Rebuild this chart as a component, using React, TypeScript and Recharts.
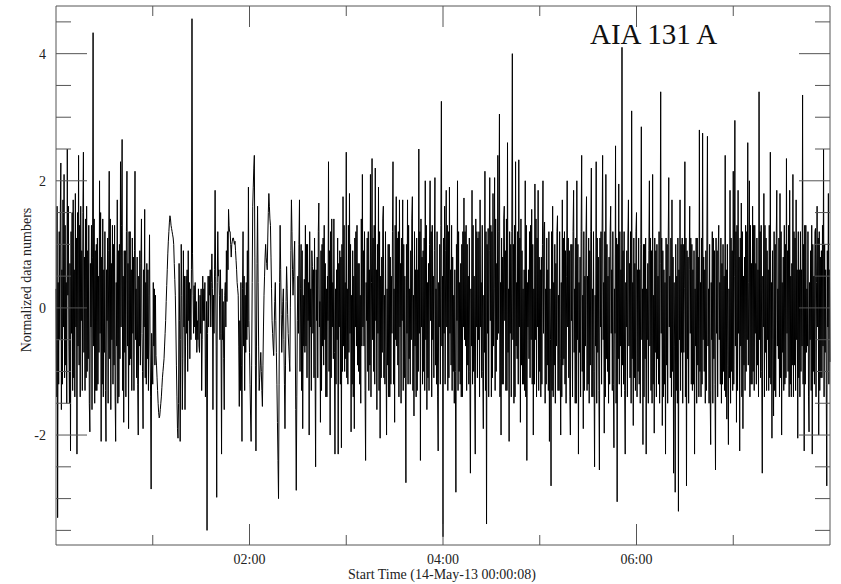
import { LineChart, Line, XAxis, YAxis } from "recharts";

// normalized AIA 131 light curve: three samples per minute (every 20 s), one array per hour
const hour0 = [
  0.3, -1.4, 1.6, -3.3, 0.4, -1.2, 1.2, -0.5, 1.5, 2.28, -1.6, 0.6, -1.2, 1.7, -0.3,
  2.1, -1.1, 1.3, -0.9, 0.4, -1.5, 2.5, 0.2, 1.6, -0.6, -1.5, 0.7, -2.25, 1.2, -0.4,
  1.5, -1.3, 1.7, -1.1, 0.6, -1.4, 1.8, -0.3, 1.1, -2.3, 1.5, -0.6, 2.4, -0.9, 1.3,
  -1.4, 1.6, -0.2, 0.9, -1.3, 1.5, 2.45, -0.7, 0.8, -1.3, 1.4, -1.1, 1.6, -1.0, 0.9,
  -0.8, 1.3, -1.5, -1.95, 0.7, -0.3, 1.3, -1.6, 0.8, 4.33, -0.6, 1.4, -1.5, 0.9, -1.3,
  1.0, -1.3, 1.1, -1.2, 0.5, -0.7, 2.0, -0.4, 1.5, -2.1, 0.8, -1.2, 1.4, -1.4, 0.6,
  -0.7, 1.2, -1.3, -2.1, 0.6, -0.2, 1.1, -1.5, 0.9, 2.15, -0.8, 1.4, -1.6, 0.7, -0.5,
  1.3, -1.2, 1.0, -0.9, 1.3, -1.4, -2.1, 0.4, -0.6, 1.7, -1.5, 0.9, -1.4, 1.0, -0.8,
  2.3, -0.3, 1.3, 2.65, -1.3, 0.5, -1.8, 0.9, -0.7, 0.9, -1.4, 1.2, 2.15, -0.6, 0.7,
  -1.9, 1.2, -0.9, 1.2, -0.8, 0.6, -1.3, 1.1, -0.4, 0.8, -1.3, 0.9, 2.15, -0.5, 0.3,
  -1.1, 0.8, -1.2, -2.0, 0.5, -0.6, 0.9, -0.9, 0.7, 1.4, -0.4, -1.0, -1.9, 0.6, -0.3,
  1.55, -1.1, 0.4, -1.2, 0.7, -0.8, 0.6, -1.3, 0.2, 1.15, -0.6, -1.4, -2.85, -0.4, -0.9,
];
const hour1 = [
  -1.2, 0.4, -0.6, 0.3, -0.9, 0.2, -0.75, -0.9, -1.1, -1.3, -1.5, -1.65, -1.73, -1.7, -1.6,
  -1.5, -1.4, -1.25, -1.1, -1.0, -0.9, -0.8, -0.6, -0.4, -0.2, 0.1, 0.35, 0.6, 0.85, 1.05,
  1.2, 1.35, 1.45, 1.4, 1.3, 1.25, 1.2, 1.15, 1.1, 1.0, 0.7, 0.45, 0.2, -0.3, -0.9,
  -1.4, -1.9, -2.05, -1.5, 0.7, -0.2, -2.1, -0.5, 1.0, 0.2, -1.6, -0.8, 0.9, -0.3, 0.5,
  -1.6, -0.6, 0.5, -0.4, 0.6, -1.0, 0.9, -0.2, 0.4, -0.8, 0.3, -0.5, 0.6, 4.55, 0.85,
  0.2, -0.4, 0.35, -0.3, 0.4, -0.5, 0.1, -0.7, -0.2, -0.5, 0.3, -0.6, -0.7, 0.2, -0.4,
  0.3, -1.3, -0.5, 0.5, -0.2, 0.3, -0.2, 0.4, -1.4, -0.8, 0.1, -3.5, -0.4, 0.5, -0.3,
  0.5, 0.2, 0.6, -0.3, 0.4, 0.85, 0.3, -1.6, 0.2, -0.4, 0.6, 1.85, 0.5, -0.6, -2.98,
  0.4, 1.2, 0.5, 0.6, 0.2, -0.5, 0.6, -0.4, -2.3, 0.3, -0.5, 0.1, -0.8, -1.6, 0.2,
  0.4, -0.3, 0.9, 0.1, 1.2, 0.6, 1.55, 1.3, 1.2, 1.2, 1.0, 0.8, 1.0, 1.05, 1.1,
  1.1, 1.05, 1.0, 1.05, 0.9, 0.75, 0.6, 0.4, 0.3, 0.2, -0.6, -1.55, -0.2, -1.3, 0.4,
  -0.9, -2.1, 0.3, 1.2, -0.6, 0.5, -1.3, 0.2, -0.7, 0.4, -0.5, 0.9, -0.3, 1.9, -0.2,
];
const hour2 = [
  -0.7, -1.2, -1.7, -2.1, -0.9, 0.4, 1.6, 1.9, 2.2, 2.4, 0.8, -0.9, -2.25, -0.6, 0.7,
  1.6, 0.4, -0.6, -1.3, -1.1, -0.9, -0.7, -1.0, -1.3, -1.55, -0.9, -0.3, 0.2, 0.5, 0.8,
  1.0, 0.8, 0.7, 0.6, 1.1, 1.5, 1.8, 1.6, 1.4, 1.3, 0.8, 0.3, -0.2, -0.4, -0.6,
  -0.75, -0.3, 0.1, 0.4, -0.2, -0.7, -1.2, -1.8, -2.4, -3.0, -1.2, 0.4, 1.3, 0.6, -0.1,
  -0.7, -0.3, 0.1, 0.3, -0.5, -1.2, -1.9, -0.9, 0.1, 0.65, 0.3, -0.1, -0.4, -0.6, -0.8,
  -1.0, 0.0, 0.9, 1.7, 1.2, 0.6, 0.2, 0.5, 0.8, 1.05, -0.3, -1.6, -2.87, -1.4, -0.2,
  0.5, -0.4, 1.0, 1.7, -1.0, 0.3, 1.0, -1.3, 0.9, -1.9, 0.2, -0.6, 0.45, -0.7, 1.3,
  -0.6, 1.0, -1.1, 1.0, -0.2, 0.4, -2.0, 1.2, -0.3, 0.3, -1.3, 0.9, 0.65, -0.4, 0.6,
  -1.1, 1.1, -0.9, -2.5, 0.6, -0.2, 0.8, -1.1, 1.2, 1.65, -0.3, 0.1, -1.8, 0.9, -1.3,
  1.0, -0.6, 1.1, -0.9, 1.3, -0.5, 0.7, -1.4, 0.3, -1.4, 0.5, -0.2, 2.3, -1.0, 0.9,
  -2.0, 1.2, -1.1, 1.4, -0.3, 0.4, -0.8, 1.4, -0.7, -2.3, 0.3, -1.2, 0.6, -0.5, 1.1,
  -2.3, 0.7, -0.3, 0.9, -1.2, 0.8, -2.2, 1.0, -1.0, 1.75, -0.6, 1.3, -1.0, 0.4, -0.8,
];
const hour3 = [
  2.45, -1.1, 0.3, -1.2, 1.3, -0.7, 1.8, -0.4, 1.0, -1.95, 0.2, -1.2, 0.9, -1.4, 0.5,
  -1.9, 1.1, -0.3, 1.2, -0.6, 1.3, -0.9, 0.7, -1.0, 0.7, -1.2, 0.2, -1.5, 1.4, -0.6,
  2.1, -0.3, 0.9, -0.6, 1.2, -1.3, -2.4, 0.4, -0.2, 1.1, -1.0, 1.2, -1.3, 0.6, -0.9,
  2.1, -1.4, 0.4, 2.35, -0.5, 1.1, -1.0, 1.3, -1.2, 2.2, -0.2, 0.6, -1.6, 1.0, -0.4,
  1.9, -1.3, 1.2, -2.05, 0.5, -1.1, 0.8, -0.7, 1.4, 1.6, -1.1, 0.2, -1.2, 1.2, -0.6,
  -2.0, 0.3, -0.9, 1.0, -1.4, 1.0, -1.4, 0.8, -1.2, 0.5, -0.4, 1.2, 2.3, -1.2, 0.3,
  -1.8, 1.3, -0.5, 1.75, -0.6, 1.1, -0.9, 1.2, -1.4, 1.7, -0.3, 0.7, -1.5, 1.1, -0.2,
  1.7, -1.3, 1.0, -1.1, 0.5, -1.1, -2.75, 1.0, -0.4, 1.7, -1.2, 1.3, -0.8, 0.3, -1.2,
  0.9, -0.5, 1.4, 1.75, -1.3, 0.2, -1.7, 1.2, -0.6, 0.6, -1.4, 1.1, -1.3, 0.6, -1.0,
  2.5, -0.4, 1.2, -2.4, 1.4, -0.3, 0.8, -1.2, 0.9, -1.0, 1.1, -1.3, 2.0, -0.5, 1.3,
  -1.6, 0.4, -1.1, 0.7, -1.3, 1.0, 2.0, -0.2, 1.2, -1.4, 1.3, -0.5, 0.5, -1.1, 0.9,
  2.05, -0.9, 0.3, -1.2, 1.2, -1.4, -2.25, 0.4, -0.3, 1.0, -1.2, 1.3, 3.25, -0.6, 0.5,
];
const hour4 = [
  -3.6, 1.1, -0.4, 1.6, -1.2, 0.9, 1.85, -0.3, 1.3, -1.3, 1.2, -1.1, 1.9, -0.4, 0.6,
  -0.9, 1.3, -1.3, 0.8, -1.0, 0.2, -1.5, 0.6, -1.0, -2.9, 1.0, -0.2, 2.0, -1.3, 1.2,
  -1.0, 0.4, -1.2, 0.7, -1.4, 1.0, -1.4, 1.2, -0.3, 1.73, -0.5, 1.2, -0.6, 1.3, -1.3,
  1.0, -0.9, 0.5, -1.2, 1.1, -1.0, -2.6, 0.3, -0.6, 1.85, -1.2, 1.3, -1.0, 0.5, -1.2,
  -2.3, 1.4, -0.3, 1.2, -1.1, 1.1, -0.5, 1.2, -1.4, 1.7, -0.3, 0.4, -1.1, 1.3, -1.0,
  -1.9, 0.2, -0.7, 2.15, -1.3, 1.2, -3.4, 1.0, -0.4, 1.25, -1.4, 0.9, 2.05, -0.2, 1.3,
  -1.4, 1.2, -1.1, 1.8, -0.6, 0.3, 2.05, -1.3, 1.4, -1.0, 0.7, -0.5, 2.4, -0.4, 1.2,
  3.05, -1.4, 0.4, -2.0, 1.1, -1.2, 0.8, -1.2, 1.4, 1.6, -0.2, 0.9, -1.3, 1.4, -1.3,
  2.6, -0.7, 0.3, -2.1, 1.2, -0.4, 1.0, -1.4, 1.2, 4.0, -0.5, 1.0, -1.5, 1.3, -1.4,
  2.3, -0.6, 0.4, -0.8, 1.2, -1.2, 2.33, -0.3, 1.1, -1.8, 1.4, -0.9, 0.9, -1.2, 0.3,
  -1.2, 0.6, -1.3, 2.0, -1.4, 1.3, -2.4, 0.4, -0.3, 0.6, -0.8, 1.2, -1.1, 1.3, -0.5,
  1.55, -1.2, 1.0, -2.0, 0.3, -1.2, 1.95, -0.5, 1.4, -1.4, 1.1, -0.3, 1.85, -1.3, 0.8,
];
const hour5 = [
  -1.0, 0.6, -1.4, 0.8, -1.2, 1.0, 2.0, -0.4, 1.2, 1.35, -1.5, 0.3, -1.2, 1.1, -0.9,
  0.6, -1.3, 1.2, -2.1, 0.3, -0.5, -2.8, 1.2, -1.3, 1.6, -1.4, 0.4, -0.9, 1.0, -1.5,
  0.7, -0.6, 1.2, 1.45, -1.3, 0.2, -1.3, 1.2, -0.8, -2.0, 0.4, -1.4, 1.7, -0.9, 1.1,
  -0.8, 1.2, -1.2, 0.9, -1.5, 0.5, 2.0, -0.3, 1.1, -1.1, 0.9, -1.4, -2.0, 1.0, -0.2,
  1.0, -1.4, 1.2, 1.85, -0.7, 0.3, -1.5, 1.1, -1.5, 2.0, -0.5, 1.0, -2.3, 0.4, -0.7,
  0.8, -1.4, 1.2, 2.4, -1.0, 0.2, -1.9, 1.2, -1.3, 0.5, -0.6, 1.1, 1.75, -1.3, 0.5,
  -1.2, 1.1, -1.5, 0.9, -0.9, 1.2, 2.2, -1.4, 0.3, -1.4, 1.2, -1.0, -2.5, 0.2, -0.6,
  2.3, -1.5, 1.1, -0.7, 0.8, -1.3, -2.55, 1.1, -0.3, 1.2, -1.2, 1.2, 2.4, -0.5, 0.4,
  -1.97, 1.2, -1.4, 2.1, -0.8, 1.0, -1.0, 0.5, -1.5, 0.8, -1.2, 1.2, 1.6, -0.4, 0.6,
  -1.3, 1.2, -1.2, -2.2, 0.3, -0.4, 2.55, -1.5, 1.1, -3.05, 1.0, -0.8, 1.95, -1.2, 1.2,
  -0.6, 0.6, -1.4, 4.1, -0.9, 0.9, -1.2, 1.2, -1.3, -2.3, 0.4, -0.3, 0.9, -1.4, 1.1,
  1.7, -0.6, 0.7, -1.1, 1.2, -1.5, 3.1, -0.8, 0.4, -1.85, 1.1, -1.1, 0.7, -1.3, 1.2,
];
const hour6 = [
  1.5, -1.4, 0.6, -1.0, 1.1, -1.2, 0.6, -1.5, 1.0, 2.85, -0.5, 0.3, -2.15, 1.0, -1.4,
  1.0, -0.8, 1.1, -2.3, 0.3, -0.5, 0.7, -1.5, 0.9, 2.0, -0.6, 1.1, -1.3, 0.9, -1.5,
  2.1, -1.2, 0.2, -1.97, 1.1, -0.7, 0.9, -1.4, 1.0, -0.8, 0.5, -1.2, 1.2, -1.5, 0.7,
  3.4, -0.4, 1.1, -1.85, 0.9, -1.4, 0.6, -1.2, 0.4, -2.3, 1.1, -0.9, 1.0, -1.5, 1.0,
  2.05, -0.3, 0.5, -1.1, 1.1, -1.4, 1.7, -1.0, 0.8, -2.6, 0.4, -0.6, -2.9, 1.0, -1.3,
  0.5, -1.5, 1.1, -3.2, 0.6, -0.5, 1.7, -1.3, 1.0, -0.7, 1.1, -1.5, 1.0, -0.7, 0.3,
  2.3, -1.4, 1.1, -2.8, 0.9, -0.8, 0.8, -1.5, 0.6, 1.6, -0.4, 1.1, -1.2, 1.0, -1.3,
  0.6, -1.2, 0.9, -2.3, 0.3, -0.6, 1.1, -1.5, 1.1, -0.9, 0.8, -1.4, 2.8, -1.0, 0.4,
  -1.4, 1.1, -1.2, 2.75, -0.5, 0.8, -1.0, 0.6, -1.5, 0.9, -1.3, 1.1, 2.7, -0.6, 0.3,
  -1.5, 1.0, -1.3, -2.15, 0.4, -0.5, 1.2, -1.5, 1.1, -0.8, 0.9, -1.2, -2.55, 1.1, -0.4,
  0.9, -1.4, 0.9, 1.3, -0.5, 0.4, -1.2, 1.1, -1.5, 0.7, -1.2, 1.0, -1.0, 0.5, -1.3,
  2.4, -1.4, 0.6, -1.75, 1.0, -0.9, -2.15, 0.3, -1.1, 1.85, -1.5, 1.1, -1.0, 0.9, -1.3,
];
const hour7 = [
  2.15, -1.2, 0.5, 2.95, -0.6, 1.2, -1.8, 1.3, -1.3, 1.85, -0.4, 0.8, -2.25, 1.1, -0.6,
  1.65, -1.4, 1.2, -1.9, 0.5, -0.9, 0.8, -1.3, 1.3, -1.0, 1.2, -0.5, 2.6, -0.9, 0.4,
  2.0, -1.4, 1.3, -1.2, 0.7, -1.2, 1.6, -1.0, 1.3, -1.3, 1.3, -0.4, 0.7, -1.2, 1.1,
  -0.9, 0.6, -1.4, 3.4, -0.5, 1.2, -1.1, 1.3, -1.0, -2.6, 0.5, -0.3, 1.8, -1.4, 1.3,
  -0.7, 1.1, -1.3, 0.9, -0.5, 0.6, -1.3, 1.3, -1.1, 2.45, -1.2, 0.4, -2.05, 0.9, -0.5,
  -1.7, 1.2, -1.3, 1.0, -1.4, 1.1, 1.85, -0.6, 0.3, -0.8, 1.1, -1.4, 1.8, -1.1, 1.2,
  -2.0, 0.4, -0.7, 0.8, -1.3, 1.3, -1.2, 1.0, -1.1, 2.35, -0.4, 0.9, -1.0, 1.3, -1.4,
  1.85, -1.2, 0.5, -1.4, 0.7, -0.9, 2.1, -1.4, 1.2, -0.9, 1.1, -1.3, 1.7, -0.5, 0.6,
  -2.05, 1.2, -1.1, 0.6, -1.4, 1.2, -1.0, 0.6, -0.6, 3.35, -1.2, 1.0, -2.25, 1.3, -1.2,
  1.3, -0.7, 0.3, -0.6, 1.2, -1.4, -1.95, 0.4, -0.5, 0.9, -1.3, 1.3, -2.3, 1.0, -1.0,
  0.5, -1.2, 1.2, 1.25, -1.4, 0.4, 1.6, -0.3, 1.1, -2.0, 1.2, -1.3, 0.8, -1.1, 0.9,
  -1.1, 1.3, -0.6, 2.5, -1.4, 1.0, -0.7, 0.6, -1.2, -2.8, 0.9, -0.3, 1.8, -1.2, 0.6,
  -0.85,
];

const signal = [...hour0, ...hour1, ...hour2, ...hour3, ...hour4, ...hour5, ...hour6, ...hour7];
const samplesPerMinute = 3;

const xDomain = [0, 480];
const xTicks = [60, 120, 180, 240, 300, 360, 420];
const xTickLabels: Record<number, string> = { 120: "02:00", 240: "04:00", 360: "06:00" };
const yDomain = [-3.73, 4.75];
const yTicks = [-3.5, -3, -2.5, -2, -1.5, -1, -0.5, 0, 0.5, 1, 1.5, 2, 2.5, 3, 3.5, 4, 4.5];
const yTickLabels: Record<string, string> = { "4": "4", "2": "2", "0": "0", "-2": "-2" };

const data = signal.map((v, i) => ({ minute: i / samplesPerMinute, value: v }));

const FONT = "'Liberation Serif', 'Times New Roman', serif";
const AXIS = "#555";
const TEXT = "#222";

function BottomTick({ x, y, payload }: any) {
  const label = xTickLabels[payload.value];
  const len = label ? 21 : 10;
  return (
    <g>
      <line x1={x} x2={x} y1={y} y2={y - len} stroke={AXIS} />
      {label && (
        <text x={x} y={y + 19} textAnchor="middle" fontFamily={FONT} fontSize={14} fill={TEXT}>
          {label}
        </text>
      )}
    </g>
  );
}

function TopTick({ x, y, payload }: any) {
  const len = xTickLabels[payload.value] ? 21 : 10;
  return <line x1={x} x2={x} y1={y} y2={y + len} stroke={AXIS} />;
}

function LeftTick({ x, y, payload }: any) {
  const label = yTickLabels[String(payload.value)];
  const len = label ? 31 : 15;
  return (
    <g>
      <line x1={x} x2={x + len} y1={y} y2={y} stroke={AXIS} />
      {label && (
        <text x={x - 10} y={y + 5} textAnchor="end" fontFamily={FONT} fontSize={14} fill={TEXT}>
          {label}
        </text>
      )}
    </g>
  );
}

function RightTick({ x, y, payload }: any) {
  const len = yTickLabels[String(payload.value)] ? 31 : 15;
  return <line x1={x - len} x2={x} y1={y} y2={y} stroke={AXIS} />;
}

export default function App() {
  return (
    <div style={{ position: "absolute", left: 0, top: 0, width: 841, height: 584, background: "#fff" }}>
      <LineChart width={841} height={584} data={data} margin={{ top: 0, right: 0, bottom: 0, left: 0 }}>
        <XAxis
          dataKey="minute"
          type="number"
          domain={xDomain}
          ticks={xTicks}
          interval={0}
          height={39}
          tickSize={0}
          tickMargin={0}
          tickLine={false}
          axisLine={{ stroke: AXIS }}
          tick={<BottomTick />}
        />
        <XAxis
          xAxisId="top"
          orientation="top"
          dataKey="minute"
          type="number"
          domain={xDomain}
          ticks={xTicks}
          interval={0}
          height={6}
          tickSize={0}
          tickMargin={0}
          tickLine={false}
          axisLine={{ stroke: AXIS }}
          tick={<TopTick />}
        />
        <YAxis
          type="number"
          domain={yDomain}
          ticks={yTicks}
          interval={0}
          width={56}
          tickSize={0}
          tickMargin={0}
          tickLine={false}
          axisLine={{ stroke: AXIS }}
          allowDataOverflow
          tick={<LeftTick />}
        />
        <YAxis
          yAxisId="right"
          orientation="right"
          type="number"
          domain={yDomain}
          ticks={yTicks}
          interval={0}
          width={11}
          tickSize={0}
          tickMargin={0}
          tickLine={false}
          axisLine={{ stroke: AXIS }}
          allowDataOverflow
          tick={<RightTick />}
        />
        <Line
          type="linear"
          dataKey="value"
          stroke="#000"
          strokeWidth={1}
          dot={false}
          isAnimationActive={false}
        />
      </LineChart>
      <svg width={841} height={584} style={{ position: "absolute", left: 0, top: 0, pointerEvents: "none" }}>
        <text x={590} y={44} fontFamily={FONT} fontSize={29} fill="#111">
          AIA 131 A
        </text>
        <text x={442} y={579} textAnchor="middle" fontFamily={FONT} fontSize={14} fill={TEXT}>
          Start Time (14-May-13 00:00:08)
        </text>
        <text
          x={31}
          y={280}
          textAnchor="middle"
          fontFamily={FONT}
          fontSize={14}
          fill={TEXT}
          transform="rotate(-90, 31, 280)"
        >
          Normalized data numbers
        </text>
      </svg>
    </div>
  );
}
